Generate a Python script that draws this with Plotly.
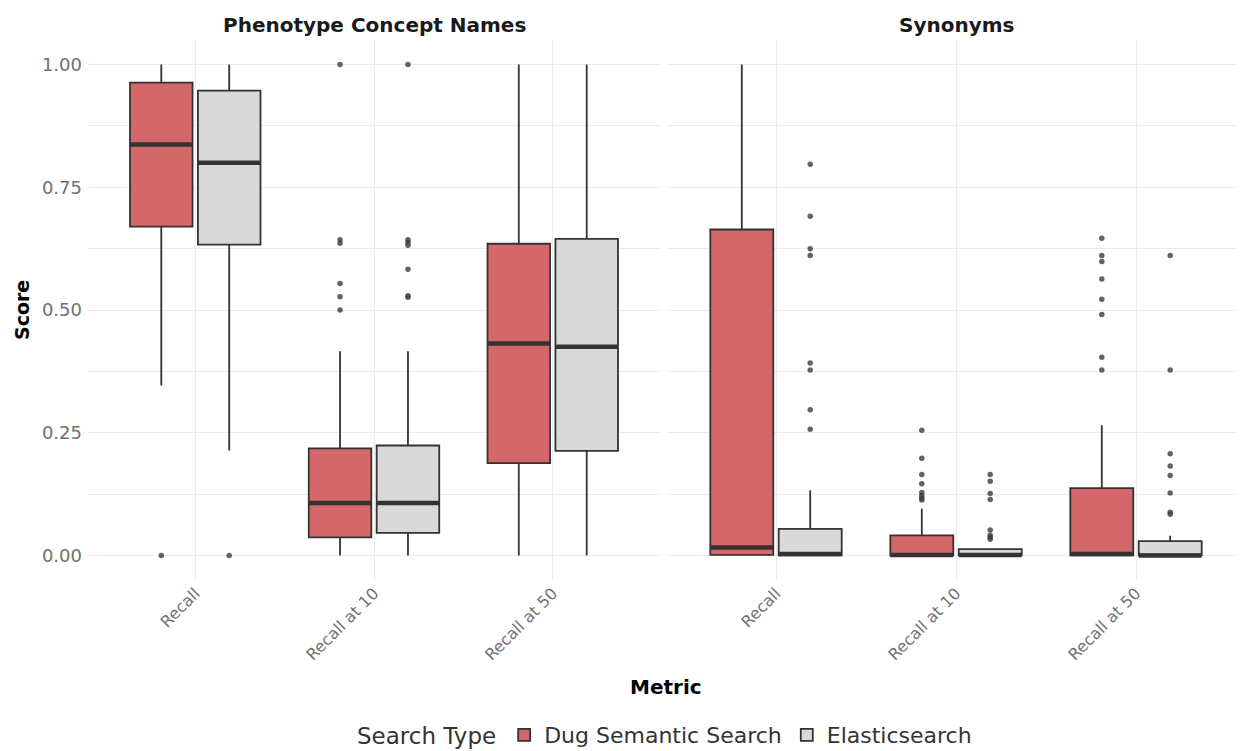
import plotly.graph_objects as go

metrics = ["Recall", "Recall at 10", "Recall at 50"]
facets = ["Phenotype Concept Names", "Synonyms"]
search_types = ["Dug Semantic Search", "Elasticsearch"]

# Phenotype Concept Names - Dug Semantic Search
concept_dug_lower = [0.346, 0.0, 0.0]
concept_dug_q1 = [0.670, 0.037, 0.188]
concept_dug_median = [0.837, 0.107, 0.432]
concept_dug_q3 = [0.963, 0.218, 0.635]
concept_dug_upper = [1.0, 0.416, 1.0]
concept_dug_outliers = [[0.0], [1.0, 0.643, 0.636, 0.554, 0.527, 0.50], []]

# Phenotype Concept Names - Elasticsearch
concept_es_lower = [0.214, 0.0, 0.0]
concept_es_q1 = [0.633, 0.046, 0.213]
concept_es_median = [0.800, 0.107, 0.425]
concept_es_q3 = [0.947, 0.224, 0.645]
concept_es_upper = [1.0, 0.416, 1.0]
concept_es_outliers = [[0.0], [1.0, 0.643, 0.638, 0.632, 0.583, 0.529, 0.526], []]

# Synonyms - Dug Semantic Search
syn_dug_lower = [0.0, 0.0, 0.0]
syn_dug_q1 = [0.001, 0.0, 0.0]
syn_dug_median = [0.016, 0.001, 0.003]
syn_dug_q3 = [0.664, 0.041, 0.137]
syn_dug_upper = [1.0, 0.095, 0.265]
syn_dug_outliers = [[], [0.255, 0.198, 0.165, 0.146, 0.128, 0.122, 0.117, 0.113],
                    [0.646, 0.611, 0.599, 0.563, 0.522, 0.491, 0.404, 0.378]]

# Synonyms - Elasticsearch
syn_es_lower = [0.0, 0.0, 0.0]
syn_es_q1 = [0.0, 0.0, 0.0]
syn_es_median = [0.003, 0.001, 0.0]
syn_es_q3 = [0.054, 0.013, 0.029]
syn_es_upper = [0.133, 0.013, 0.040]
syn_es_outliers = [[0.797, 0.691, 0.625, 0.611, 0.392, 0.378, 0.297, 0.257],
                   [0.165, 0.151, 0.126, 0.114, 0.052, 0.041, 0.037, 0.033],
                   [0.611, 0.378, 0.207, 0.182, 0.163, 0.127, 0.088, 0.084]]

data = {
    (0, 0): (concept_dug_lower, concept_dug_q1, concept_dug_median, concept_dug_q3, concept_dug_upper, concept_dug_outliers),
    (0, 1): (concept_es_lower, concept_es_q1, concept_es_median, concept_es_q3, concept_es_upper, concept_es_outliers),
    (1, 0): (syn_dug_lower, syn_dug_q1, syn_dug_median, syn_dug_q3, syn_dug_upper, syn_dug_outliers),
    (1, 1): (syn_es_lower, syn_es_q1, syn_es_median, syn_es_q3, syn_es_upper, syn_es_outliers),
}

FONT = "DejaVu Sans"
fills = ["#d3676a", "#d9d9d9"]
edge = "#333333"
offsets = [-0.19, 0.19]
box_w = 0.35

fig = go.Figure()
for f in range(2):
    xa = "x" if f == 0 else "x2"
    ya = "y" if f == 0 else "y2"
    for s in range(2):
        lower, q1, med, q3, upper, outs = data[(f, s)]
        pos = [i + 1 + offsets[s] for i in range(len(metrics))]
        fig.add_trace(go.Box(
            x=pos, q1=q1, median=med, q3=q3, lowerfence=lower, upperfence=upper,
            width=box_w, fillcolor=fills[s], line=dict(color=edge, width=1.8),
            whiskerwidth=0, boxpoints=False, name=search_types[s],
            legendgroup=search_types[s], showlegend=(f == 0),
            xaxis=xa, yaxis=ya, hoverinfo="skip",
        ))
        # thick median lines
        mx, my = [], []
        for p, m in zip(pos, med):
            mx += [p - box_w / 2, p + box_w / 2, None]
            my += [m, m, None]
        fig.add_trace(go.Scatter(x=mx, y=my, mode="lines", line=dict(color=edge, width=4.5),
                                 showlegend=False, xaxis=xa, yaxis=ya, hoverinfo="skip"))
        # outliers
        ox, oy = [], []
        for p, o in zip(pos, outs):
            ox += [p] * len(o)
            oy += o
        fig.add_trace(go.Scatter(x=ox, y=oy, mode="markers",
                                 marker=dict(color="rgba(60,60,60,0.8)", size=5.5),
                                 showlegend=False, xaxis=xa, yaxis=ya, hoverinfo="skip"))

# page body adds an 8px offset; figure is sized to fill the rest of the window
OFF = 8
W, H = 1244 - OFF, 751 - OFF
ml, mr, mt = 88 - OFF, 0, 40 - OFF
plot_bottom = 580 - OFF
mb = H - plot_bottom
pw = W - ml - mr
ph = plot_bottom - mt
left_end = (660 - OFF - ml) / pw
right_start = (668 - OFF - ml) / pw


def py(px):
    return (plot_bottom - (px - OFF)) / ph


def pxx(px):
    return (px - OFF - ml) / pw


grid = "#ebebeb"
xtickfont = dict(family=FONT, size=16, color="#707070")
ytickfont = dict(family=FONT, size=18, color="#707070")
xcommon = dict(range=[0.4, 3.6], tickvals=[1, 2, 3], ticktext=metrics, tickangle=-45,
               showgrid=True, gridcolor=grid, gridwidth=1, zeroline=False, showline=False,
               ticks="", tickfont=xtickfont)
ycommon = dict(range=[-0.05, 1.05], tickvals=[0, 0.25, 0.5, 0.75, 1.0],
               ticktext=["0.00", "0.25", "0.50", "0.75", "1.00"],
               showgrid=True, gridcolor=grid, gridwidth=1, zeroline=False, showline=False,
               ticks="",
               minor=dict(tickvals=[0.125, 0.375, 0.625, 0.875], showgrid=True, gridcolor=grid, gridwidth=1))

fig.update_layout(
    width=W, height=H,
    margin=dict(l=ml, r=mr, t=mt, b=mb, autoexpand=False),
    plot_bgcolor="white", paper_bgcolor="white",
    font=dict(family=FONT, color="#222"),
    xaxis=dict(domain=[0, left_end], anchor="y", **xcommon),
    xaxis2=dict(domain=[right_start, 1], anchor="y2", **xcommon),
    yaxis=dict(anchor="x", tickfont=ytickfont, ticklabelstandoff=5, **ycommon),
    yaxis2=dict(anchor="x2", matches="y", showticklabels=False, **ycommon),
    legend=dict(orientation="h", x=0.5, xanchor="center", y=py(735), yanchor="middle",
                title=dict(text="Search Type", font=dict(family=FONT, size=23, color="#333")),
                font=dict(family=FONT, size=22, color="#333"), itemwidth=30),
    showlegend=True,
)

title_y = py(25)
fig.add_annotation(text="<b>Phenotype Concept Names</b>", x=left_end / 2, y=title_y,
                   xref="paper", yref="paper", showarrow=False, xanchor="center", yanchor="middle",
                   font=dict(family=FONT, size=20, color="#1a1a1a"))
fig.add_annotation(text="<b>Synonyms</b>", x=(right_start + 1) / 2, y=title_y,
                   xref="paper", yref="paper", showarrow=False, xanchor="center", yanchor="middle",
                   font=dict(family=FONT, size=20, color="#1a1a1a"))
fig.add_annotation(text="<b>Metric</b>", x=0.5, y=py(687),
                   xref="paper", yref="paper", showarrow=False, xanchor="center", yanchor="middle",
                   font=dict(family=FONT, size=20, color="#000"))
fig.add_annotation(text="<b>Score</b>", x=pxx(22), y=0.5, textangle=-90,
                   xref="paper", yref="paper", showarrow=False, xanchor="center", yanchor="middle",
                   font=dict(family=FONT, size=19, color="#000"))

fig.write_html("out.html")
